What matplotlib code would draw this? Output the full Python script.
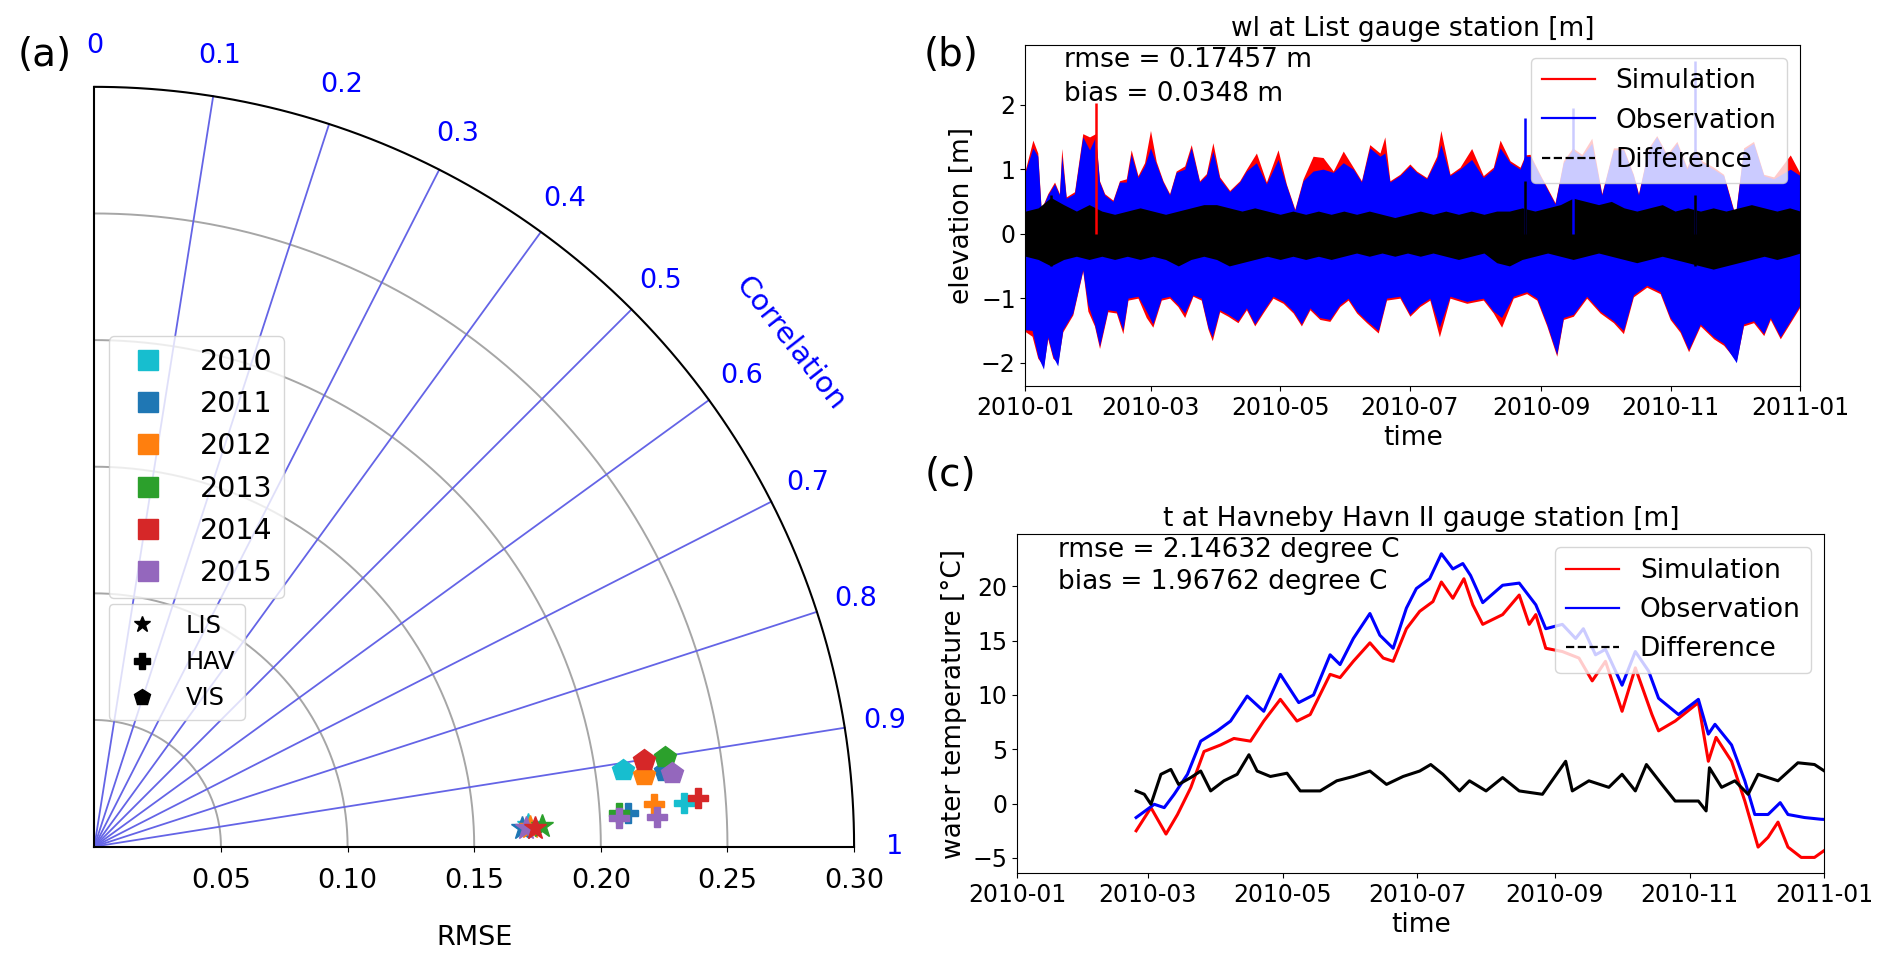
import numpy as np
import pandas as pd
import matplotlib
matplotlib.use("Agg")
import matplotlib.pyplot as plt
import matplotlib.dates as mdates
from matplotlib.lines import Line2D

# ---------------- Taylor-like diagram data ----------------
years = ["2010", "2011", "2012", "2013", "2014", "2015"]
year_colors = ["#17becf", "#1f77b4", "#ff7f0e", "#2ca02c", "#d62728", "#9467bd"]
stations = ["LIS", "HAV", "VIS"]
station_markers = ["*", "P", "p"]

# year index of each point, RMSE, correlation
lis_year = [0, 1, 2, 5, 3, 4]
rmse_LIS = [0.1715, 0.1692, 0.1720, 0.1705, 0.1771, 0.1741]
corr_LIS = [0.968, 0.973, 0.972, 0.973, 0.9708, 0.9726]
hav_year = [0, 1, 2, 3, 4, 5, 5]
rmse_HAV = [0.2333, 0.2113, 0.2218, 0.2074, 0.2391, 0.2225, 0.2076]
corr_HAV = [0.9533, 0.9604, 0.952, 0.9597, 0.9484, 0.966, 0.965]
vis_year = [0, 1, 2, 3, 4, 5]
rmse_VIS = [0.2109, 0.2274, 0.2187, 0.2282, 0.2198, 0.2299]
corr_VIS = [0.9084, 0.9162, 0.9175, 0.9005, 0.9006, 0.9197]

rmse_grid = [0.05, 0.10, 0.15, 0.20, 0.25]
rmse_ticks = [0.05, 0.10, 0.15, 0.20, 0.25, 0.30]
rmse_max = 0.30
corr_ticks = [0, 0.1, 0.2, 0.3, 0.4, 0.5, 0.6, 0.7, 0.8, 0.9, 1]
corr_labels = ["0", "0.1", "0.2", "0.3", "0.4", "0.5", "0.6", "0.7", "0.8", "0.9", "1"]

# ---------------- Panel (b): water level at List (envelopes, m) ----------------
hi_days = [0, 3.5, 5.8, 7.4, 10.5, 13.7, 16.0, 17.1, 19.2, 23.1, 27.0, 30.2, 33.0, 34.9, 37.3,
           41.2, 44.3, 47.5, 49.8, 53.0, 56.1, 58.9, 61.6, 64.8, 67.9, 71.0, 75.0, 78.1, 82.0,
           85.2, 88.3, 91.5, 96.2, 100.9, 104.1, 108.8, 113.5, 119.0, 122.9, 126.9, 130.8,
           135.5, 140.2, 145.0, 149.7, 154.4, 158.3, 162.2, 167.0, 169.3, 171.7, 176.4, 181.1,
           184.3, 189.0, 193.7, 195.7, 200.0, 204.7, 210.2, 215.7, 220.4, 223.6, 228.3, 233.0,
           235.4, 237.7, 242.4, 249.5, 253.4, 257.8, 262.1, 266.8, 271.5, 277.0, 281.7, 286.4,
           288.8, 293.5, 297.4, 302.2, 306.9, 311.6, 315.5, 318.7, 324.2, 328.9, 334.4, 338.3,
           343.0, 347.8, 352.5, 360.3, 365]
obs_hi = [0.97, 1.33, 1.2, 0.36, 0.6, 0.77, 0.6, 1.2, 0.55, 0.62, 1.5, 1.3, 1.5, 0.8, 0.6,
          0.5, 0.8, 0.8, 1.23, 0.87, 1.05, 1.33, 1.08, 0.8, 0.6, 0.95, 1.0, 1.33, 0.8,
          0.9, 1.28, 0.85, 0.65, 0.8, 0.97, 1.1, 0.77, 1.15, 0.75, 0.36, 0.82,
          0.97, 1.0, 0.95, 1.1, 1.0, 0.8, 1.33, 1.2, 1.25, 0.8, 0.9, 1.05,
          0.95, 0.85, 1.15, 1.38, 0.9, 1.0, 1.15, 0.87, 1.0, 1.33, 1.1, 1.0,
          1.2, 1.2, 0.9, 0.46, 1.1, 1.3, 1.2, 1.4, 0.6, 1.3, 1.3, 0.9,
          0.6, 1.3, 1.5, 1.2, 1.4, 1.0, 1.3, 1.1, 1.0, 0.9, 0.26, 1.3,
          1.4, 0.9, 0.85, 1.0, 0.9]
sim_hi = [1.0, 1.45, 1.25, 0.38, 0.62, 0.8, 0.62, 1.32, 0.57, 0.65, 1.55, 1.5, 1.55, 0.82, 0.62,
          0.52, 0.82, 0.85, 1.3, 0.9, 1.1, 1.6, 1.12, 0.82, 0.62, 0.97, 1.05, 1.38, 0.82,
          0.93, 1.41, 0.88, 0.67, 0.82, 1.0, 1.25, 0.8, 1.3, 0.77, 0.38, 0.85,
          1.2, 1.18, 0.97, 1.28, 1.03, 0.82, 1.38, 1.25, 1.5, 0.82, 0.92, 1.08,
          0.97, 0.87, 1.2, 1.6, 0.92, 1.03, 1.32, 0.9, 1.03, 1.45, 1.13, 1.03,
          1.22, 1.23, 0.92, 0.48, 1.13, 1.33, 1.23, 1.48, 0.62, 1.33, 1.33, 0.92,
          0.62, 1.33, 1.52, 1.23, 1.43, 1.03, 1.33, 1.13, 1.03, 0.92, 0.28, 1.33,
          1.43, 0.92, 0.88, 1.22, 0.93]
lo_days = [0, 3.1, 5.8, 8.5, 10.5, 12.9, 15.2, 17.6, 22.3, 27.0, 29.4, 32.5, 34.9, 38.8, 42.8,
           45.9, 48.3, 53.0, 56.9, 60.0, 64.0, 67.9, 71.8, 75.0, 78.9, 82.8, 86.0, 88.0, 91.5,
           95.4, 100.1, 104.1, 108.0, 111.9, 116.6, 121.4, 126.1, 130.0, 134.0, 138.7, 143.4,
           148.1, 152.0, 156.0, 160.7, 166.2, 170.1, 176.4, 181.1, 185.8, 190.5, 195.0, 200.0,
           207.9, 215.7, 220.4, 224.3, 229.8, 236.1, 240.9, 245.6, 250.3, 253.4, 258.1, 264.4,
           270.7, 277.0, 281.7, 286.4, 292.7, 299.0, 303.7, 308.4, 312.4, 317.9, 324.2, 328.9,
           334.9, 338.3, 343.0, 347.8, 350.9, 355.6, 360.3, 365]
obs_lo = [-1.49, -1.5, -1.9, -2.1, -1.6, -1.9, -2.05, -1.49, -1.23, -0.56, -1.1, -1.4, -1.74,
          -1.18, -1.2, -1.49, -1.0, -0.97, -1.2, -1.4, -1.0, -0.97, -1.1, -1.23, -0.95, -1.0,
          -1.45, -1.6, -1.18, -1.25, -1.35, -1.15, -1.4, -1.2, -0.97, -1.05, -1.2, -1.4, -1.15,
          -1.3, -1.33, -1.1, -1.0, -1.2, -1.35, -1.5, -1.0, -0.97, -1.25, -1.1, -1.0, -1.45,
          -0.97, -1.05, -1.0, -1.2, -1.3, -0.97, -0.9, -1.0, -1.4, -1.87, -1.3, -1.25, -0.97,
          -1.2, -1.35, -1.5, -0.95, -0.8, -0.9, -1.3, -1.5, -1.8, -1.4, -1.6, -1.7,
          -2.0, -1.4, -1.35, -1.55, -1.3, -1.6, -1.35, -1.1]
sim_lo = [-1.52, -1.59, -1.93, -2.05, -1.63, -1.93, -2.0, -1.52, -1.26, -0.58, -1.2, -1.43, -1.78,
          -1.21, -1.23, -1.55, -1.03, -1.0, -1.3, -1.45, -1.03, -1.0, -1.13, -1.3, -0.97, -1.03,
          -1.48, -1.66, -1.21, -1.28, -1.38, -1.18, -1.43, -1.23, -1.0, -1.08, -1.23, -1.43, -1.18,
          -1.33, -1.36, -1.13, -1.03, -1.23, -1.38, -1.54, -1.03, -1.0, -1.28, -1.13, -1.03, -1.6,
          -1.0, -1.08, -1.03, -1.23, -1.45, -1.0, -0.93, -1.03, -1.43, -1.9, -1.33, -1.28, -1.0,
          -1.23, -1.38, -1.55, -0.98, -0.83, -0.93, -1.33, -1.53, -1.83, -1.43, -1.63, -1.73,
          -1.97, -1.43, -1.38, -1.58, -1.33, -1.63, -1.38, -1.13]
dif_days = [0, 6, 12, 18, 24, 30, 36, 42, 48, 54, 60, 66, 72, 78, 84, 90, 96, 102, 108, 114,
            120, 126, 132, 138, 144, 150, 156, 162, 168, 174, 180, 186, 192, 198, 204, 210, 216,
            222, 228, 234, 240, 246, 252, 258, 264, 270, 276, 282, 288, 294, 300, 306, 312, 318,
            324, 330, 336, 342, 348, 354, 360, 365]
dif_hi = [0.35, 0.4, 0.56, 0.45, 0.35, 0.45, 0.35, 0.3, 0.35, 0.4, 0.35, 0.3, 0.35, 0.4, 0.45,
          0.45, 0.4, 0.35, 0.4, 0.35, 0.3, 0.35, 0.3, 0.35, 0.3, 0.35, 0.3, 0.35, 0.3, 0.25, 0.3,
          0.35, 0.3, 0.35, 0.3, 0.35, 0.3, 0.35, 0.35, 0.4, 0.35, 0.4, 0.45, 0.55, 0.5, 0.45,
          0.5, 0.4, 0.35, 0.4, 0.45, 0.35, 0.4, 0.35, 0.4, 0.35, 0.4, 0.45, 0.4, 0.35, 0.4, 0.35]
dif_lo = [-0.35, -0.4, -0.5, -0.4, -0.35, -0.4, -0.35, -0.4, -0.35, -0.4, -0.35, -0.4, -0.5,
          -0.4, -0.35, -0.4, -0.5, -0.45, -0.4, -0.35, -0.4, -0.35, -0.4, -0.35, -0.4, -0.35,
          -0.3, -0.35, -0.3, -0.35, -0.3, -0.35, -0.3, -0.35, -0.4, -0.35, -0.3, -0.45, -0.5,
          -0.4, -0.35, -0.3, -0.35, -0.4, -0.35, -0.3, -0.35, -0.4, -0.45, -0.4, -0.35, -0.4,
          -0.45, -0.5, -0.55, -0.5, -0.45, -0.4, -0.35, -0.4, -0.35, -0.3]
# isolated thin spikes
obs_spike_d = [235.4, 257.8, 315.5]
obs_spike_v = [1.8, 1.95, 2.67]
sim_spike_d = [33.0]
sim_spike_v = [2.02]
dif_spike_d = [12, 235.4, 315.5]
dif_spike_lo = [-0.5, -0.3, -0.5]
dif_spike_hi = [0.6, 0.82, 0.6]

# ---------------- Panel (c): temperature at Havneby (deg C) ----------------
obs_c_days = [53.8, 62, 66.5, 71, 77, 83, 90.5, 96.5, 104, 111.5, 119, 127.3, 134, 141.5, 146,
              152, 159.5, 164, 170, 176, 180.5, 186.5, 191.8, 197, 201.5, 205, 210.5, 219.5,
              227, 234.5, 239, 246.5, 252.5, 256, 261.5, 266, 273.5, 279.5, 285.5, 290, 299,
              308, 312.5, 315.5, 323, 329, 333.5, 339.5, 345, 348.5, 356, 363.5, 365]
obs_c = [-1.28, -0.06, -0.37, 0.86, 2.7, 5.75, 6.7, 7.6, 9.9, 8.5, 11.9, 9.3, 10.0, 13.7, 12.8,
         15.2, 17.5, 15.5, 14.3, 18.0, 19.8, 20.7, 23.0, 21.6, 22.1, 21.0, 18.5, 20.1,
         20.3, 18.3, 16.1, 16.5, 15.2, 16.1, 13.7, 14.2, 10.9, 14.0, 12.2, 9.7, 8.2,
         9.6, 6.4, 7.3, 5.4, 2.1, -1.0, -1.0, 0.09, -1.0, -1.28, -1.44, -1.45]
sim_c_days = [53.8, 60.5, 67.3, 72.5, 78.5, 84.5, 92, 98, 105.5, 111.5, 119, 126.5, 132.5, 141.5,
              146, 152, 159.5, 165.5, 170, 176, 182, 188, 191.8, 197, 202, 206, 210.5, 219.5,
              227, 231.5, 234.5, 239, 246.5, 254, 260, 266, 273.5, 279.5, 287, 290, 297.5, 308,
              312.5, 316, 323, 329, 335, 339.5, 344, 348.5, 354.5, 360.5, 365]
sim_c = [-2.5, -0.37, -2.8, -1.0, 1.47, 4.8, 5.4, 6.0, 5.75, 7.6, 9.6, 7.6, 8.2, 11.9,
         11.6, 13.1, 14.8, 13.4, 13.1, 16.1, 17.7, 18.6, 20.4, 18.9, 20.7, 18.3, 16.5, 17.4,
         19.2, 16.5, 17.4, 14.3, 14.0, 13.4, 11.3, 13.1, 8.5, 12.5, 8.2, 6.7, 7.6, 9.3,
         3.9, 6.1, 3.9, 0.24, -4.0, -3.1, -1.7, -4.0, -4.95, -4.95, -4.3]
dif_c_days = [53.8, 57.5, 60.5, 65, 69.5, 73, 78.5, 83, 87.5, 93.5, 99.5, 104.8, 108.5, 114.5,
              122, 128, 137, 144.5, 152, 159.5, 167, 174.5, 182, 187, 192.5, 200, 204.5, 212,
              219.5, 227, 237.5, 248, 251, 258.5, 267.5, 273.5, 279.5, 284.5, 291.5, 297.5,
              308, 311.5, 313, 318.5, 324.5, 330.5, 335, 344, 353, 360.5, 365]
dif_c = [1.17, 0.86, -0.06, 2.7, 3.15, 1.77, 2.4, 3.0, 1.17, 2.1, 2.7, 4.5, 3.0, 2.5,
         2.8, 1.17, 1.17, 2.1, 2.5, 3.0, 1.77, 2.5, 3.0, 3.6, 2.7, 1.17, 2.1, 1.17,
         2.4, 1.17, 0.86, 3.9, 1.17, 2.1, 1.5, 2.7, 1.17, 3.6, 1.77, 0.24,
         0.24, -0.67, 3.3, 1.5, 2.1, 0.86, 2.7, 2.1, 3.76, 3.6, 3.0]

start = pd.Timestamp("2010-01-01")
end = pd.Timestamp("2011-01-01")


def to_dates(d):
    return (start + pd.to_timedelta(np.asarray(d, dtype=float), unit="D")).values


# ---------------- Figure ----------------
fig = plt.figure(figsize=(18.92, 9.66), dpi=100)

# ---- (a) Taylor-like diagram ----
ax = fig.add_axes([0.04974, 0.1236, 0.4018, 0.7865])
ax.set_xlim(0, rmse_max)
ax.set_ylim(0, rmse_max)
ax.set_aspect("equal")
for s in ["top", "right"]:
    ax.spines[s].set_visible(False)
for s in ["left", "bottom"]:
    ax.spines[s].set_linewidth(1.5)
ax.set_yticks([])
ax.set_xticks(rmse_ticks)
ax.set_xticklabels(["%.2f" % v for v in rmse_ticks])
ax.tick_params(axis="x", labelsize=19.5, pad=12)
ax.set_xlabel("RMSE", fontsize=19.5, labelpad=22)

th = np.linspace(0, np.pi / 2, 300)
for r in rmse_grid:
    ax.plot(r * np.cos(th), r * np.sin(th), color="#a6a6a6", lw=1.4, zorder=1)
ax.plot(rmse_max * np.cos(th), rmse_max * np.sin(th), color="black", lw=1.5, zorder=2, clip_on=False)
for c, lab in zip(corr_ticks, corr_labels):
    a = (1 - c) * np.pi / 2
    if 0 < c < 1:
        ax.plot([0, rmse_max * np.cos(a)], [0, rmse_max * np.sin(a)], color="#6464e6", lw=1.3, zorder=1)
    ax.text(0.316 * np.cos(a), 0.316 * np.sin(a), lab, color="blue", fontsize=19.5,
            ha="center", va="center", clip_on=False)
ang = np.deg2rad(35.9)
ax.text(0.339 * np.cos(ang), 0.339 * np.sin(ang), "Correlation", color="blue", fontsize=21,
        rotation=-52, ha="center", va="center", rotation_mode="anchor", clip_on=False)

for yi, rm, cr, mk, ms in [(lis_year, rmse_LIS, corr_LIS, "*", 17),
                           (hav_year, rmse_HAV, corr_HAV, "P", 15),
                           (vis_year, rmse_VIS, corr_VIS, "p", 16)]:
    for k in range(len(rm)):
        a = (1 - cr[k]) * np.pi / 2
        ax.plot(rm[k] * np.cos(a), rm[k] * np.sin(a), marker=mk, ls="none",
                color=year_colors[yi[k]], ms=ms, zorder=5, clip_on=False)

h1 = [Line2D([], [], marker="s", ls="none", color=c, ms=14) for c in year_colors]
fig.legend(h1, years, loc="upper left", bbox_to_anchor=(0.0574, 0.6517), fontsize=20.5,
           borderaxespad=0)
h2 = [Line2D([], [], marker=m, ls="none", color="black", ms=12) for m in station_markers]
fig.legend(h2, stations, loc="upper left", bbox_to_anchor=(0.0574, 0.3745), fontsize=17.4,
           borderaxespad=0)

# ---- (b) water level ----
axb = fig.add_axes([0.542, 0.6005, 0.4095, 0.3533])
axb.fill_between(to_dates(hi_days), 0, sim_hi, color="red", lw=0)
axb.fill_between(to_dates(lo_days), sim_lo, 0, color="red", lw=0)
axb.vlines(to_dates(sim_spike_d), 0, sim_spike_v, color="red", lw=1.8)
axb.fill_between(to_dates(hi_days), 0, obs_hi, color="blue", lw=0)
axb.fill_between(to_dates(lo_days), obs_lo, 0, color="blue", lw=0)
axb.vlines(to_dates(obs_spike_d), 0, obs_spike_v, color="blue", lw=1.8)
axb.fill_between(to_dates(dif_days), dif_lo, dif_hi, color="black", lw=0)
axb.vlines(to_dates(dif_spike_d), dif_spike_lo, dif_spike_hi, color="black", lw=1.8)
axb.set_xlim(start, end)
axb.set_ylim(-2.36, 2.93)
axb.set_title("wl at List gauge station [m]", fontsize=19)
axb.set_xlabel("time", fontsize=19)
axb.set_ylabel("elevation [m]", fontsize=19)
axb.text(0.05, 0.954, "rmse = 0.17457 m", transform=axb.transAxes, fontsize=19, va="center")
axb.text(0.05, 0.855, "bias = 0.0348 m", transform=axb.transAxes, fontsize=19, va="center")

# ---- (c) temperature ----
axc = fig.add_axes([0.5376, 0.0961, 0.4267, 0.3509])
axc.plot(to_dates(sim_c_days), sim_c, color="red", lw=2.2)
axc.plot(to_dates(obs_c_days), obs_c, color="blue", lw=2.2)
axc.plot(to_dates(dif_c_days), dif_c, color="black", lw=2.2)
axc.set_xlim(start, end)
axc.set_ylim(-6.4, 24.8)
axc.set_title("t at Havneby Havn II gauge station [m]", fontsize=19)
axc.set_xlabel("time", fontsize=19)
axc.set_ylabel("water temperature [°C]", fontsize=19)
axc.text(0.05, 0.954, "rmse = 2.14632 degree C", transform=axc.transAxes, fontsize=19, va="center")
axc.text(0.05, 0.858, "bias = 1.96762 degree C", transform=axc.transAxes, fontsize=19, va="center")

leg_h = [Line2D([], [], color="red", lw=1.6), Line2D([], [], color="blue", lw=1.6),
         Line2D([], [], color="black", lw=1.6, ls="--")]
leg_l = ["Simulation", "Observation", "Difference"]
for a_ in (axb, axc):
    a_.legend(leg_h, leg_l, loc="upper right", fontsize=19)
    a_.xaxis.set_major_locator(mdates.MonthLocator(bymonth=[1, 3, 5, 7, 9, 11]))
    a_.xaxis.set_major_formatter(mdates.DateFormatter("%Y-%m"))
    a_.tick_params(labelsize=17)

fig.text(0.0236, 0.9426, "(a)", fontsize=28, ha="center", va="center")
fig.text(0.5026, 0.9426, "(b)", fontsize=28, ha="center", va="center")
fig.text(0.5026, 0.508, "(c)", fontsize=28, ha="center", va="center")

fig.savefig("out.png", dpi=100)
